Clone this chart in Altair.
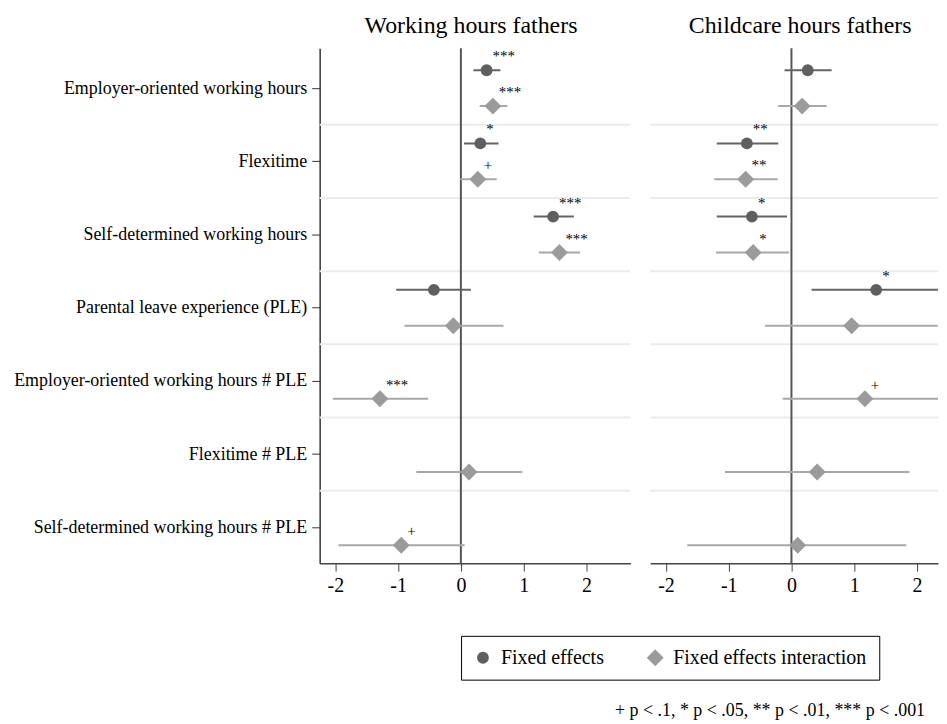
import json
import altair as alt
import pandas as pd

categories = [
    "Employer-oriented working hours",
    "Flexitime",
    "Self-determined working hours",
    "Parental leave experience (PLE)",
    "Employer-oriented working hours # PLE",
    "Flexitime # PLE",
    "Self-determined working hours # PLE",
]
series_names = ["Fixed effects", "Fixed effects interaction"]
ci_names = ["Fixed effects CI", "Fixed effects interaction CI"]

# Working hours fathers
fe_work_est = [0.41, 0.31, 1.47, -0.43]
fe_work_lo = [0.20, 0.05, 1.16, -1.03]
fe_work_hi = [0.63, 0.60, 1.80, 0.16]
fe_work_sig = ["***", "*", "***", ""]
fei_work_est = [0.51, 0.27, 1.57, -0.12, -1.29, 0.13, -0.95]
fei_work_lo = [0.30, -0.01, 1.24, -0.90, -2.04, -0.71, -1.95]
fei_work_hi = [0.74, 0.57, 1.90, 0.68, -0.52, 0.98, 0.06]
fei_work_sig = ["***", "+", "***", "", "***", "", "+"]

# Childcare hours fathers
fe_care_est = [0.26, -0.71, -0.63, 1.35]
fe_care_lo = [-0.11, -1.19, -1.19, 0.32]
fe_care_hi = [0.64, -0.21, -0.07, 2.39]
fe_care_sig = ["", "**", "*", "*"]
fei_care_est = [0.17, -0.73, -0.61, 0.96, 1.17, 0.41, 0.10]
fei_care_lo = [-0.21, -1.23, -1.20, -0.42, -0.14, -1.06, -1.66]
fei_care_hi = [0.56, -0.22, -0.04, 2.33, 2.48, 1.88, 1.83]
fei_care_sig = ["", "**", "*", "", "+", "", ""]

x_ticks = [-2, -1, 0, 1, 2]
note = "+ p < .1, * p < .05, ** p < .01, *** p < .001"

FONT = "Liberation Serif"
row_shift = {"Fixed effects": -0.245, "Fixed effects interaction": 0.245}


def build(est, lo, hi, sig, k):
    series = series_names[k]
    rows = []
    for i, (e, l, h, s) in enumerate(zip(est, lo, hi, sig)):
        rows.append(dict(category=categories[i], pos=i + row_shift[series],
                         est=e, lo=l, hi=h, sig=s, series=series, ci=ci_names[k]))
    return rows


work = pd.DataFrame(build(fe_work_est, fe_work_lo, fe_work_hi, fe_work_sig, 0)
                    + build(fei_work_est, fei_work_lo, fei_work_hi, fei_work_sig, 1))
care = pd.DataFrame(build(fe_care_est, fe_care_lo, fe_care_hi, fe_care_sig, 0)
                    + build(fei_care_est, fei_care_lo, fei_care_hi, fei_care_sig, 1))
seps = pd.DataFrame({"sep": [i + 0.5 for i in range(len(categories) - 1)]})
zero = pd.DataFrame({"ref": [0]})

label_expr = json.dumps(categories) + "[round(datum.value)]"
x_label_expr = "datum.value < 0 ? '-' + abs(datum.value) : '' + datum.value"

legend = alt.Legend(
    title=None, orient="none", legendX=142, legendY=590, direction="horizontal",
    strokeColor="black", padding=12, labelFont=FONT, labelFontSize=20,
    labelColor="black", columnPadding=41, symbolOpacity=1, labelOffset=8,
    fillColor="white", symbolStrokeWidth=0, labelLimit=400,
)
color_enc = alt.Color("series:N", scale=alt.Scale(domain=series_names, range=["#5f5f5f", "#9b9b9b"]), legend=legend)
shape_enc = alt.Shape("series:N", scale=alt.Scale(domain=series_names, range=["circle", "diamond"]), legend=legend)
size_enc = alt.Size("series:N", scale=alt.Scale(domain=series_names, range=[140, 290]), legend=legend)
stroke_enc = alt.Stroke("ci:N", scale=alt.Scale(domain=ci_names, range=["#646464", "#a8a8a8"]), legend=None)

XMIN = -2.25
PX_PER_UNIT = 312 / 4.95


def panel(df, title, show_y, dx, width):
    yscale = alt.Scale(domain=[-0.544, 6.49], reverse=True, nice=False, zero=False)
    xscale = alt.Scale(domain=[XMIN, XMIN + width / PX_PER_UNIT], nice=False, zero=False)
    if show_y:
        yaxis = alt.Axis(title=None, values=list(range(len(categories))), labelExpr=label_expr,
                         grid=False, tickSize=8, labelPadding=5, domainColor="#333333",
                         domainWidth=1.5, tickColor="#333333", labelFontSize=18,
                         labelFont=FONT, labelColor="black", labelLimit=500)
    else:
        yaxis = None
    xaxis = alt.Axis(title=None, values=x_ticks, grid=False, tickSize=8, labelPadding=4,
                     domainColor="#444444", domainWidth=1.5, tickColor="#444444", labelFontSize=20,
                     labelFont=FONT, labelColor="black", labelExpr=x_label_expr)

    sep_layer = alt.Chart(seps).mark_rule(color="#ebebeb", strokeWidth=2).encode(
        y=alt.Y("sep:Q", scale=yscale, axis=yaxis))
    zero_layer = alt.Chart(zero).mark_rule(color="#555555", strokeWidth=2).encode(
        x=alt.X("ref:Q", scale=xscale, axis=xaxis))
    ci_layer = alt.Chart(df).mark_rule(strokeWidth=2, clip=True).encode(
        x=alt.X("lo:Q", scale=xscale, axis=xaxis), x2="hi:Q",
        y=alt.Y("pos:Q", scale=yscale, axis=yaxis), stroke=stroke_enc)
    pt_layer = alt.Chart(df).mark_point(filled=True, opacity=1).encode(
        x=alt.X("est:Q", scale=xscale, axis=xaxis), y=alt.Y("pos:Q", scale=yscale, axis=yaxis),
        color=color_enc, shape=shape_enc, size=size_enc)
    txt_layer = alt.Chart(df).mark_text(align="left", baseline="alphabetic", dx=6, dy=-9,
                                        font=FONT, fontSize=15, color="black").encode(
        x=alt.X("est:Q", scale=xscale, axis=xaxis), y=alt.Y("pos:Q", scale=yscale, axis=yaxis),
        text="sig:N")
    return alt.layer(sep_layer, zero_layer, ci_layer, pt_layer, txt_layer).properties(
        width=width, height=517,
        title=alt.TitleParams(title, fontSize=24, font=FONT, fontWeight="normal", color="black",
                              offset=9, dx=dx))


left = panel(work, "Working hours fathers", True, -4, 312)
right = panel(care, "Childcare hours fathers", False, 6, 289)

chart = alt.hconcat(left, right, spacing=18).resolve_scale(
    color="shared", shape="shared", size="shared", stroke="shared"
).properties(
    background="white",
    padding={"left": 5, "top": 5, "right": 0, "bottom": 0},
    title=alt.TitleParams(note, orient="bottom", anchor="end", fontSize=18, font=FONT,
                          fontWeight="normal", color="black", dx=-14, offset=22)
).configure_view(stroke=None)

chart.save("out.html", embed_options={"renderer": "svg", "actions": False})
